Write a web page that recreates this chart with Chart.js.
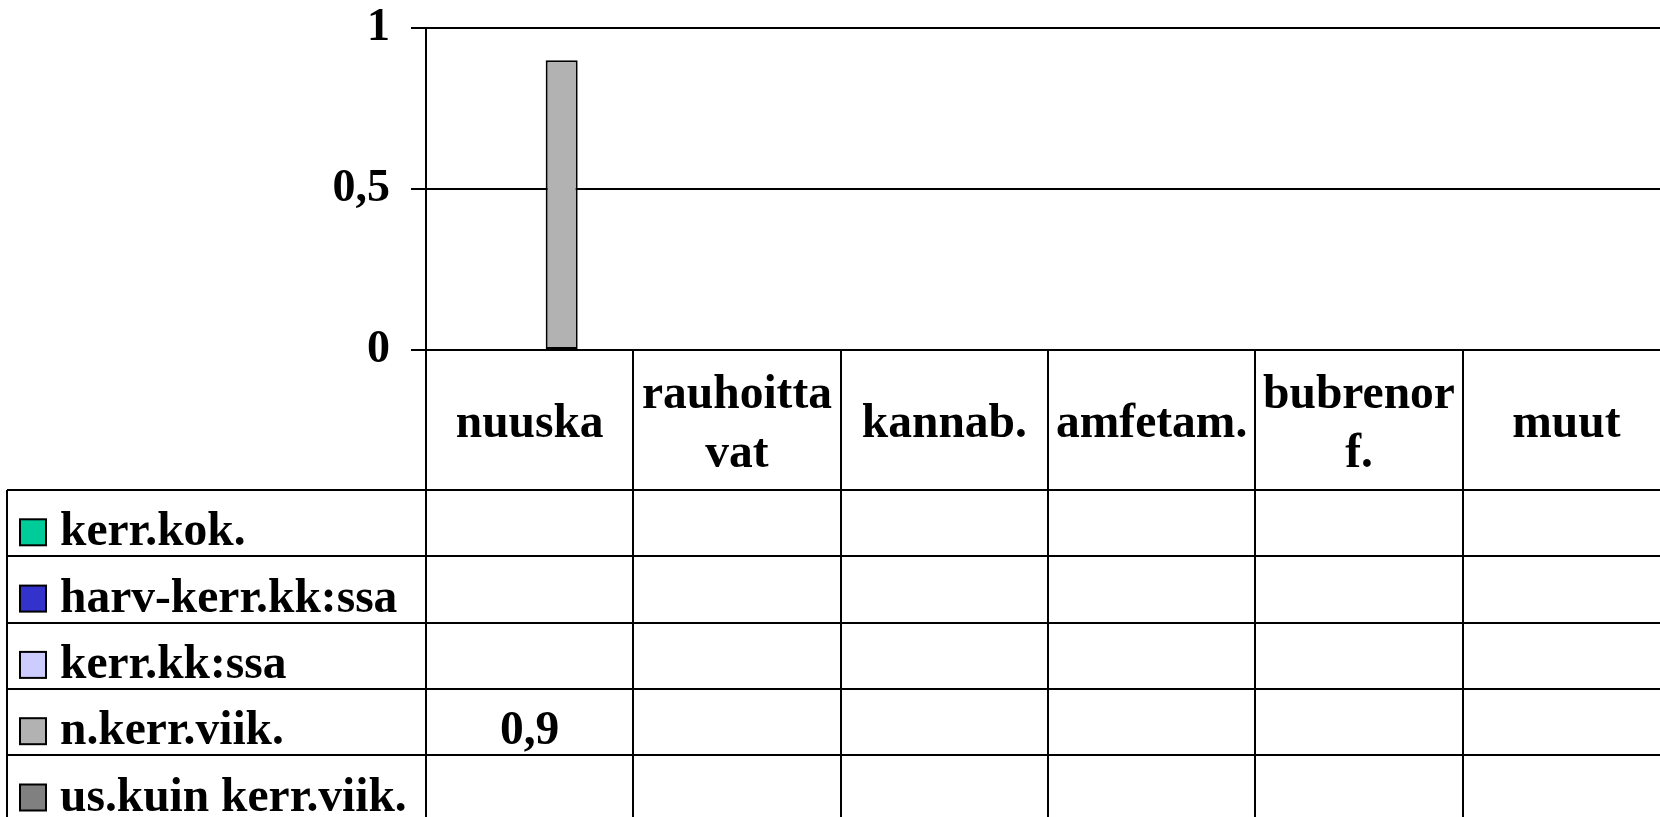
<!DOCTYPE html>
<html>
<head>
<meta charset="utf-8">
<script src="https://cdn.jsdelivr.net/npm/chart.js@4.4.1/dist/chart.umd.min.js"></script>
<style>
  html, body { margin: 0; padding: 0; background: #fff; overflow: hidden; }
  #chart { display: block; }
</style>
</head>
<body>
<canvas id="chart" width="1670" height="830"></canvas>
<script>
/* global Chart */

// categories (multi-line labels as arrays)
const categories = ['nuuska', ['rauhoitta', 'vat'], 'kannab.', 'amfetam.', ['bubrenor', 'f.'], 'muut'];

// series
const seriesNames = ['kerr.kok.', 'harv-kerr.kk:ssa', 'kerr.kk:ssa', 'n.kerr.viik.', 'us.kuin kerr.viik.'];
const seriesColors = ['#00CC99', '#3333CC', '#CCCCFF', '#B2B2B2', '#808080'];
const kerrKok = [null, null, null, null, null, null];
const harvKerrKk = [null, null, null, null, null, null];
const kerrKk = [null, null, null, null, null, null];
const nKerrViik = [0.9, null, null, null, null, null];
const usKuinKerrViik = [null, null, null, null, null, null];
const seriesValues = [kerrKok, harvKerrKk, kerrKk, nKerrViik, usKuinKerrViik];

// y axis ticks
const yTicks = [0, 0.5, 1];

const SERIF = '"Liberation Serif", "Times New Roman", serif';
const TABLE_FONT = 'bold 47.5px ' + SERIF;
const fmt = (v) => String(v).replace('.', ',');

/**
 * Draws the data table (category header, legend keys and values) under the plot
 */
const dataTablePlugin = {
    id: 'dataTable',
    afterDraw(chart) {
        'use strict';

        const ctx = chart.ctx;
        const area = chart.chartArea;
        const xScale = chart.scales.x;
        const colW = (area.right - area.left) / categories.length;
        const tableLeft = 7;
        const headBottom = 490;
        const rowH = 66.3;
        const right = chart.width;
        const bottom = chart.height;

        const line = (x1, y1, x2, y2) => {
            ctx.beginPath();
            ctx.moveTo(x1, y1);
            ctx.lineTo(x2, y2);
            ctx.stroke();
        };

        ctx.save();
        ctx.strokeStyle = '#000';
        ctx.lineWidth = 2;

        for (let r = 0; r <= seriesNames.length; r++) {
            const y = Math.round(headBottom + r * rowH);
            line(tableLeft, y, right, y);
        }
        line(tableLeft, headBottom, tableLeft, bottom);
        for (let i = 0; i <= categories.length; i++) {
            const cx = Math.round(area.left + i * colW);
            line(cx, area.bottom, cx, bottom);
        }

        ctx.font = TABLE_FONT;
        ctx.fillStyle = '#000';
        ctx.textBaseline = 'alphabetic';
        ctx.textAlign = 'center';

        categories.forEach((c, i) => {
            const cx = xScale.getPixelForValue(i);
            if (Array.isArray(c)) {
                ctx.fillText(c[0], cx, 408);
                ctx.fillText(c[1], cx, 467);
            } else {
                ctx.fillText(c, cx, 437);
            }
        });

        seriesNames.forEach((name, r) => {
            const base = headBottom + (r + 1) * rowH - 11;

            ctx.fillStyle = seriesColors[r];
            ctx.fillRect(20, base - 26, 26, 26);
            ctx.lineWidth = 2;
            ctx.strokeRect(20, base - 26, 26, 26);

            ctx.fillStyle = '#000';
            ctx.textAlign = 'left';
            ctx.fillText(name, 60, base);

            ctx.textAlign = 'center';
            seriesValues[r].forEach((v, i) => {
                if (v === null) {
                    return;
                }
                ctx.fillText(fmt(v), xScale.getPixelForValue(i), base);
            });
        });

        ctx.restore();
    }
};

const datasets = seriesNames.map((name, i) => ({
    label: name,
    data: seriesValues[i],
    backgroundColor: seriesColors[i],
    borderColor: '#000',
    borderWidth: 2,
    borderSkipped: false
}));

const chart = new Chart(document.getElementById('chart'), { // eslint-disable-line no-unused-vars
    type: 'bar',
    data: {
        labels: categories,
        datasets: datasets
    },
    options: {
        responsive: false,
        animation: false,
        layout: {
            padding: { top: 28, left: 0, right: 0, bottom: 0 }
        },
        datasets: {
            bar: {
                categoryPercentage: 0.772,
                barPercentage: 1
            }
        },
        plugins: {
            legend: { display: false },
            tooltip: { enabled: false }
        },
        scales: {
            x: {
                ticks: { display: false },
                grid: { display: false },
                border: { display: false },
                afterFit: (scale) => {
                    scale.height = 480;
                    scale.paddingLeft = 0;
                    scale.paddingRight = 0;
                }
            },
            y: {
                min: 0,
                max: 1,
                afterBuildTicks: (scale) => {
                    scale.ticks = yTicks.map(v => ({ value: v }));
                },
                afterFit: (scale) => {
                    scale.width = 426;
                    scale.paddingTop = 0;
                    scale.paddingBottom = 0;
                },
                ticks: {
                    color: '#000',
                    font: { family: SERIF, size: 46, weight: 'bold' },
                    padding: 21,
                    callback: (v) => fmt(v)
                },
                grid: {
                    color: '#000',
                    lineWidth: 2,
                    tickLength: 15
                },
                border: {
                    color: '#000',
                    width: 2
                }
            }
        }
    },
    plugins: [dataTablePlugin]
});
</script>
</body>
</html>
